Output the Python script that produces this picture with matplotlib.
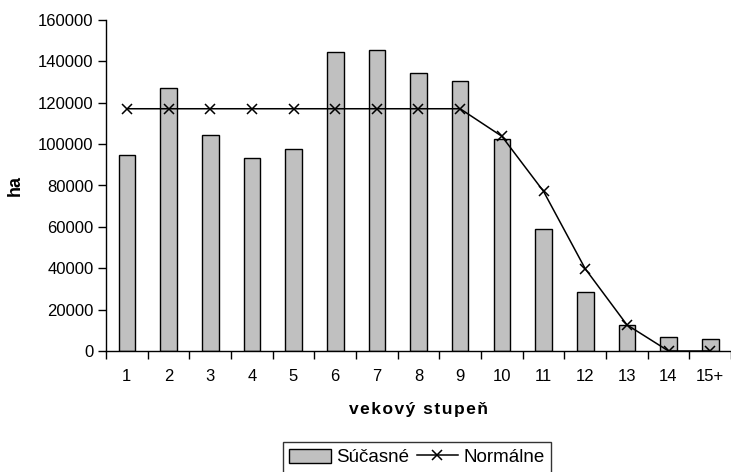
import matplotlib
matplotlib.use("Agg")
import matplotlib.pyplot as plt

# vekove stupne a plochy (ha)
categories = ["1", "2", "3", "4", "5", "6", "7", "8", "9", "10", "11", "12", "13", "14", "15+"]
sucasne = [94600, 127000, 104600, 93300, 97800, 144400, 145500, 134400, 130400,
           102600, 58800, 28500, 12700, 6600, 6000]
normalne = [117100, 117100, 117100, 117100, 117100, 117100, 117100, 117100, 117100,
            103800, 77200, 39800, 12700, 0, 0]
y_ticks = [0, 20000, 40000, 60000, 80000, 100000, 120000, 140000, 160000]

plt.rcParams['font.family'] = ['Liberation Sans', 'DejaVu Sans']

fig = plt.figure(figsize=(7.31, 4.72), dpi=100)
ax = fig.add_axes([106/731, 1 - 351/472, 1 - 106/731, 331/472])

x = list(range(len(categories)))
bars = ax.bar(x, sucasne, width=0.4, color='#c0c0c0', edgecolor='black', linewidth=1.0,
              label='Súčasné', zorder=2)
line, = ax.plot(x, normalne, color='black', linewidth=1.1, marker='x', markersize=7,
                markeredgewidth=1.1, label='Normálne', zorder=3)

ax.set_xlim(-0.5, len(categories) - 0.5)
ax.set_ylim(0, 160000)
ax.set_yticks(y_ticks)
ax.set_yticklabels([str(v) for v in y_ticks], fontsize=12)

# category labels between boundary ticks
ax.set_xticks([i - 0.5 for i in range(len(categories) + 1)])
ax.set_xticklabels([])
ax.set_xticks(x, minor=True)
ax.set_xticklabels(categories, minor=True, fontsize=12)
ax.tick_params(axis='x', which='minor', length=0, pad=13)
ax.tick_params(axis='x', which='major', length=6, direction='out', width=1, color='black')
ax.tick_params(axis='y', length=6, width=1, direction='out', pad=3)

for s in ['top', 'right']:
    ax.spines[s].set_visible(False)
for s in ['left', 'bottom']:
    ax.spines[s].set_linewidth(1)

ax.set_ylabel('ha', fontsize=13, fontweight='bold', labelpad=10)
# letter-spaced like the original
xlab = '\u200a'.join('vekový stupeň')
ax.set_xlabel(xlab, fontsize=12.5, fontweight='bold', labelpad=13)

leg = fig.legend([bars, line], ['Súčasné', 'Normálne'], loc='upper center',
                 bbox_to_anchor=(417/731, 1 - 442/472), ncol=2,
                 frameon=True, fancybox=False, edgecolor='black', fontsize=13.5,
                 handlelength=2.2, handleheight=0.8, handletextpad=0.3, columnspacing=0.4,
                 borderpad=0.35, borderaxespad=0)
leg.get_frame().set_linewidth(1)

fig.savefig('out.png', dpi=100)
